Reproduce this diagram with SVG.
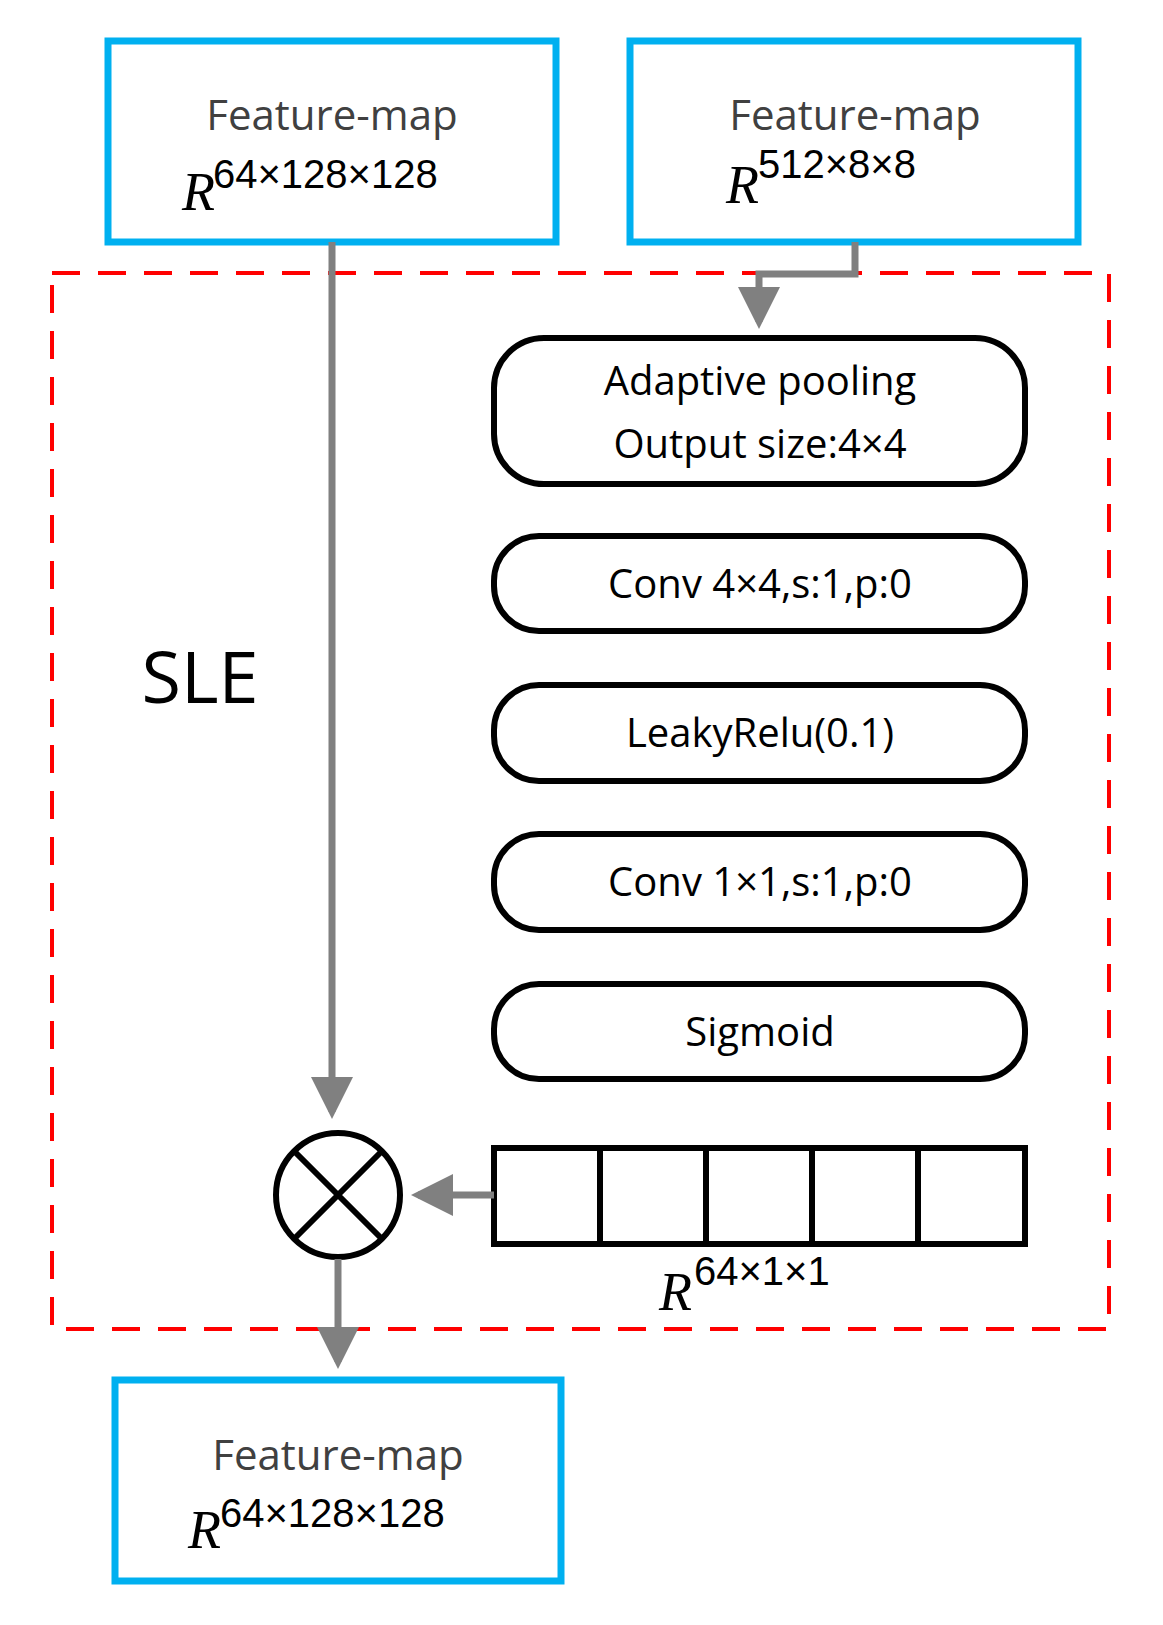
<svg xmlns="http://www.w3.org/2000/svg" width="1163" height="1625" viewBox="0 0 1163 1625">
<defs>
<marker id="ah" markerWidth="6" markerHeight="6" refX="5" refY="3" orient="auto" markerUnits="strokeWidth"><path d="M0,0 L6,3 L0,6 z" fill="#808080"/></marker>
<style>
.fm{fill:#fff;stroke:#00b0f0;stroke-width:7}
.rb{fill:#fff;stroke:#000;stroke-width:6}
.t{font-family:"Open Sans","Liberation Sans",sans-serif;text-anchor:middle}
.g{fill:#404040;font-size:42px}
.b{fill:#000;font-size:40px}
.m{font-family:"Liberation Serif",serif;font-style:italic}
.c{fill:none;stroke:#808080;stroke-width:7}
</style>
</defs>
<rect width="1163" height="1625" fill="#fff"/>
<rect x="52" y="273" width="1057" height="1056" fill="none" stroke="#ff0000" stroke-width="4" stroke-dasharray="28,18"/>
<text x="200" y="703" class="t" style="font-size:72px" fill="#000">SLE</text>
<g id="fm1"><rect class="fm" x="108" y="41" width="448" height="201"/><text x="332" y="130" class="t g">Feature-map</text><text x="182" y="210" class="m" font-size="54" fill="#000">R</text><text x="213" y="188" font-family="Liberation Sans Narrow,Liberation Sans,sans-serif" font-size="40" fill="#000">64×128×128</text></g>
<g id="fm2"><rect class="fm" x="630" y="41" width="448" height="201"/><text x="855" y="130" class="t g">Feature-map</text><text x="726" y="203" class="m" font-size="54" fill="#000">R</text><text x="758" y="178" font-family="Liberation Sans" font-size="40" fill="#000">512×8×8</text></g>
<g id="pool"><rect class="rb" x="494" y="338" width="531" height="146" rx="50"/><text x="760" y="395" class="t b">Adaptive pooling</text><text x="760" y="458" class="t b">Output size:4×4</text></g>
<g id="conv4"><rect class="rb" x="494" y="536" width="531" height="95" rx="45"/><text x="760" y="598" class="t b">Conv 4×4,s:1,p:0</text></g>
<g id="leaky"><rect class="rb" x="494" y="685" width="531" height="96" rx="45"/><text x="760" y="747" class="t b">LeakyRelu(0.1)</text></g>
<g id="conv1"><rect class="rb" x="494" y="834" width="531" height="96" rx="45"/><text x="760" y="896" class="t b">Conv 1×1,s:1,p:0</text></g>
<g id="sig"><rect class="rb" x="494" y="984" width="531" height="95" rx="45"/><text x="760" y="1046" class="t b">Sigmoid</text></g>
<g id="vec" fill="none" stroke="#000" stroke-width="6"><rect x="494" y="1148" width="531" height="96"/><path d="M600 1148V1244M706 1148V1244M812 1148V1244M918 1148V1244"/></g>
<text x="659" y="1310" class="m" font-size="54" fill="#000">R</text><text x="694" y="1285" font-family="Liberation Sans" font-size="40" fill="#000">64×1×1</text>
<g id="mul" stroke="#000" stroke-width="6"><circle cx="338" cy="1195" r="62" fill="#fff"/><path d="M294 1151L382 1239M382 1151L294 1239"/></g>
<g id="fm3"><rect class="fm" x="115" y="1380" width="446" height="201"/><text x="338" y="1470" class="t g">Feature-map</text><text x="188" y="1548" class="m" font-size="54" fill="#000">R</text><text x="220" y="1527" font-family="Liberation Sans Narrow,Liberation Sans,sans-serif" font-size="40" fill="#000">64×128×128</text></g>
<g id="connectors" class="c">
<path class="c" d="M332 242V1112" marker-end="url(#ah)"/>
<path class="c" d="M855 242V274H759V322" marker-end="url(#ah)"/>
<path class="c" d="M494 1195H418" marker-end="url(#ah)"/>
<path class="c" d="M338 1259V1362" marker-end="url(#ah)"/>
</g>
</svg>
